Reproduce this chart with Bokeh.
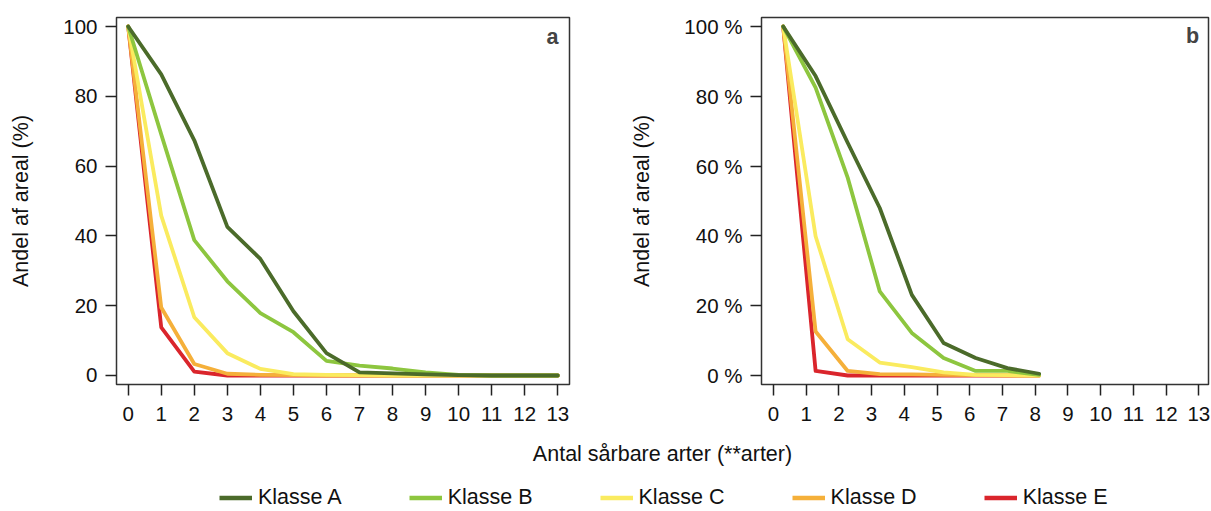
from bokeh.plotting import figure
from bokeh.models import (Range1d, FixedTicker, PrintfTickFormatter, Label,
                          Legend, LegendItem)
from bokeh.layouts import column, row
from bokeh.embed import file_html
from bokeh.resources import INLINE

# ---------------- data ----------------
classes = ["Klasse A", "Klasse B", "Klasse C", "Klasse D", "Klasse E"]
colors = ["#4b6b2a", "#8dc63f", "#faeb5f", "#f5b03a", "#da252c"]

x_a = [0, 1, 2, 3, 4, 5, 6, 7, 8, 9, 10, 11, 12, 13]
a_A = [100, 86.3, 67.4, 42.6, 33.4, 18.4, 6.4, 0.9, 0.6, 0.3, 0.1, 0, 0, 0]
a_B = [100, 69.1, 38.8, 27.0, 17.9, 12.4, 4.2, 2.8, 2.0, 0.9, 0.2, 0, 0, 0]
a_C = [100, 45.8, 16.7, 6.4, 1.9, 0.4, 0.2, 0.1, 0, 0, 0, 0, 0, 0]
a_D = [100, 19.5, 3.3, 0.5, 0.2, 0.1, 0, 0, 0, 0, 0, 0, 0, 0]
a_E = [100, 13.8, 1.1, 0, 0, 0, 0, 0, 0, 0, 0, 0, 0, 0]

x_b = [0.3, 1.29, 2.27, 3.25, 4.23, 5.2, 6.18, 7.15, 8.12]
b_A = [100, 85.8, 66.7, 48.0, 23.1, 9.3, 5.0, 2.1, 0.5]
b_B = [100, 82.5, 56.7, 24.1, 12.2, 5.0, 1.3, 1.3, 0.2]
b_C = [100, 39.9, 10.4, 3.7, 2.4, 0.9, 0.2, 0.1, 0]
b_D = [100, 12.6, 1.3, 0.4, 0.3, 0.2, 0.1, 0, 0]
b_E = [100, 1.3, 0, 0, 0, 0, 0, 0, 0]

x_ticks = list(range(0, 14))
y_ticks = [0, 20, 40, 60, 80, 100]
y_title = "Andel af areal (%)"
x_title = "Antal sårbare arter (**arter)"
panel_letters = ["a", "b"]

FONT = "Liberation Sans"
TICK_FS = "20.5px"
LABEL_FS = "21.5px"


def style(p, ylabel_fmt=None):
    p.outline_line_color = "#333333"
    p.outline_line_width = 1.5
    p.grid.visible = False
    for ax in (p.xaxis[0], p.yaxis[0]):
        ax.axis_line_color = None
        ax.major_tick_in = 0
        ax.major_tick_out = 11
        ax.major_tick_line_color = "#222222"
        ax.major_tick_line_width = 1.5
        ax.minor_tick_line_color = None
        ax.major_label_text_font = FONT
        ax.major_label_text_font_size = TICK_FS
        ax.major_label_text_color = "#111111"
    p.xaxis[0].ticker = FixedTicker(ticks=x_ticks)
    p.yaxis[0].ticker = FixedTicker(ticks=y_ticks)
    p.xaxis[0].major_label_standoff = 11
    p.yaxis[0].major_label_standoff = 8
    p.yaxis[0].axis_label = y_title
    p.yaxis[0].axis_label_text_font = FONT
    p.yaxis[0].axis_label_text_font_size = LABEL_FS
    p.yaxis[0].axis_label_text_font_style = "normal"
    p.yaxis[0].axis_label_text_color = "#111111"
    p.yaxis[0].axis_label_standoff = 27
    if ylabel_fmt:
        p.yaxis[0].formatter = PrintfTickFormatter(format=ylabel_fmt)


p1 = figure(width=627, height=438, title=None,
            x_range=Range1d(-0.354, 13.354), y_range=Range1d(-2.58, 102.58),
            output_backend="svg", toolbar_location=None,
            min_border_left=116, min_border_right=58,
            min_border_top=17, min_border_bottom=54)
style(p1)

p2 = figure(width=583, height=438, title=None,
            x_range=Range1d(-0.363, 13.294), y_range=Range1d(-2.58, 102.58),
            output_backend="svg", toolbar_location=None,
            min_border_left=130, min_border_right=2,
            min_border_top=17, min_border_bottom=54)
style(p2, "%d %%")

series_a = [a_A, a_B, a_C, a_D, a_E]
series_b = [b_A, b_B, b_C, b_D, b_E]
for i in reversed(range(5)):
    p1.line(x_a, series_a[i], line_color=colors[i], line_width=3.8,
            line_join="round", line_cap="round")
    p2.line(x_b, series_b[i], line_color=colors[i], line_width=3.8,
            line_join="round", line_cap="round")

p1.add_layout(Label(x=12.84, y=97.1, text=panel_letters[0], text_font=FONT,
                    text_font_size="21.5px", text_font_style="bold",
                    text_align="center", text_baseline="middle"))
p2.add_layout(Label(x=12.81, y=97.3, text=panel_letters[1], text_font=FONT,
                    text_font_size="21.5px", text_font_style="bold",
                    text_align="center", text_baseline="middle"))

# bottom strip: shared x title + legend
W3, H3 = 1210, 72
p3 = figure(width=W3, height=H3, title=None,
            x_range=Range1d(0, W3), y_range=Range1d(0, H3),
            output_backend="svg", toolbar_location=None,
            min_border=0, x_axis_location=None, y_axis_location=None)
p3.grid.visible = False
p3.outline_line_color = None

p3.add_layout(Label(x=662, y=57, text=x_title, text_font=FONT,
                    text_font_size=LABEL_FS, text_color="#111111",
                    text_align="center", text_baseline="middle"))

items = []
for i, name in enumerate(classes):
    # single-point line (draws nothing, out of view) used only as legend key
    r = p3.line(x=x_a[:1], y=series_a[i][:1], line_color=colors[i],
                line_width=4.5)
    items.append(LegendItem(label=name, renderers=[r]))

legend = Legend(items=items, orientation="horizontal", location=(219, 0),
                glyph_width=33, glyph_height=21, label_height=21,
                label_standoff=6, spacing=67, padding=0, margin=0,
                border_line_color=None, background_fill_alpha=0,
                label_text_font=FONT, label_text_font_size=LABEL_FS,
                label_text_color="#111111")
p3.add_layout(legend)

layout = column(row(p1, p2), p3)
open("out.html", "w").write(file_html(layout, INLINE))
